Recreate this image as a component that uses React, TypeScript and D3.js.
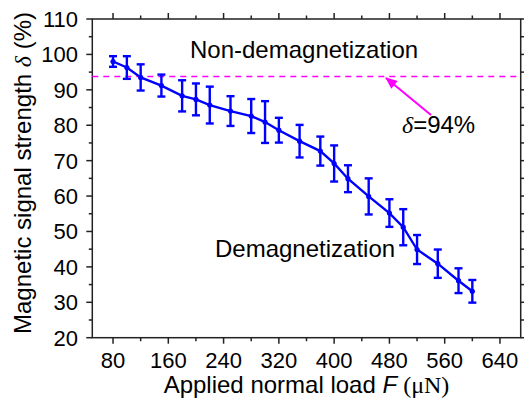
import React from "react";
import * as d3 from "d3";

const loads = [80, 100, 120, 150, 180, 200, 220, 250, 280, 300, 320, 350, 380, 400, 420, 450, 480, 500, 520, 550, 580, 600];
const strength = [98.0, 96.3, 93.5, 91.2, 88.3, 87.3, 85.7, 84.0, 82.6, 80.9, 78.6, 75.5, 72.7, 69.2, 64.9, 59.9, 55.2, 51.2, 44.9, 40.9, 36.1, 33.1];
const errors = [1.5, 3.2, 3.7, 3.1, 4.4, 4.5, 5.2, 4.2, 4.8, 5.9, 3.5, 4.6, 4.1, 5.1, 3.8, 5.1, 3.9, 5.1, 4.1, 4.0, 3.5, 3.2];
const xTicks = [80, 160, 240, 320, 400, 480, 560, 640];
const xMinor = [120, 200, 280, 360, 440, 520, 600];
const yTicks = [20, 30, 40, 50, 60, 70, 80, 90, 100, 110];
const yMinor = [25, 35, 45, 55, 65, 75, 85, 95, 105];
const threshold = 94;

const W = 524;
const H = 403;
const L = 92.3, R = 520.7, T = 19, B = 337.7;

export default function App() {
  const x = d3.scaleLinear().domain([50, 670]).range([L, R]);
  const y = d3.scaleLinear().domain([20, 110]).range([B, T]);
  const pts = loads.map((v, i) => ({ x: v, y: strength[i], e: errors[i] }));
  const line = d3.line<{ x: number; y: number }>().x((d) => x(d.x)).y((d) => y(d.y));
  const blue = "#0000ff";
  const magenta = "#ff00ff";
  const axisColor = "#222";
  const font = "Arial, 'Liberation Sans', Helvetica, sans-serif";
  const serif = "'Times New Roman', 'Liberation Serif', serif";

  return (
    <svg width={W} height={H} style={{ position: "absolute", left: 0, top: 0, background: "#fff" }} fontFamily={font}>
      <rect x={0} y={0} width={W} height={H} fill="#fff" />
      <rect x={L} y={T} width={R - L} height={B - T} fill="none" stroke={axisColor} strokeWidth={1.5} />
      {xTicks.map((t) => (
        <g key={"xt" + t}>
          <line x1={x(t)} x2={x(t)} y1={B} y2={B + 6} stroke={axisColor} strokeWidth={1.5} />
          <line x1={x(t)} x2={x(t)} y1={T} y2={T - 6} stroke={axisColor} strokeWidth={1.5} />
          <text x={x(t)} y={368} textAnchor="middle" fontSize={22} fill="#000">{t}</text>
        </g>
      ))}
      {xMinor.map((t) => (
        <g key={"xm" + t}>
          <line x1={x(t)} x2={x(t)} y1={B} y2={B + 3.5} stroke={axisColor} strokeWidth={1.5} />
          <line x1={x(t)} x2={x(t)} y1={T} y2={T - 3.5} stroke={axisColor} strokeWidth={1.5} />
        </g>
      ))}
      {yTicks.map((t) => (
        <g key={"yt" + t}>
          <line x1={L} x2={L - 6} y1={y(t)} y2={y(t)} stroke={axisColor} strokeWidth={1.5} />
          <line x1={R} x2={R + 6} y1={y(t)} y2={y(t)} stroke={axisColor} strokeWidth={1.5} />
          <text x={78} y={y(t)} dy="0.36em" textAnchor="end" fontSize={22} fill="#000">{t}</text>
        </g>
      ))}
      {yMinor.map((t) => (
        <g key={"ym" + t}>
          <line x1={L} x2={L - 3.5} y1={y(t)} y2={y(t)} stroke={axisColor} strokeWidth={1.5} />
          <line x1={R} x2={R + 3.5} y1={y(t)} y2={y(t)} stroke={axisColor} strokeWidth={1.5} />
        </g>
      ))}
      <line x1={L} x2={R} y1={Math.round(y(threshold)) + 0.5} y2={Math.round(y(threshold)) + 0.5} stroke={magenta} strokeWidth={1.6} strokeDasharray="6 5" />
      <path d={line(pts) || ""} fill="none" stroke={blue} strokeWidth={2.4} />
      {pts.map((p, i) => (
        <g key={"p" + i} stroke={blue} strokeWidth={2.4}>
          <line x1={x(p.x)} x2={x(p.x)} y1={y(p.y - p.e)} y2={y(p.y + p.e)} />
          <line x1={x(p.x) - 4} x2={x(p.x) + 4} y1={y(p.y - p.e)} y2={y(p.y - p.e)} />
          <line x1={x(p.x) - 4} x2={x(p.x) + 4} y1={y(p.y + p.e)} y2={y(p.y + p.e)} />
          <circle cx={x(p.x)} cy={y(p.y)} r={2.6} fill={blue} stroke="none" />
        </g>
      ))}
      <text x={190} y={58} fontSize={24} fill="#000">Non-demagnetization</text>
      <text x={215} y={257} fontSize={24} fill="#000">Demagnetization</text>
      <defs>
        <marker id="ah" viewBox="0 0 12 10" refX={11} refY={5} markerUnits="userSpaceOnUse" markerWidth={13} markerHeight={10} orient="auto">
          <path d="M0,0 L12,5 L0,10 Z" fill={magenta} />
        </marker>
      </defs>
      <line x1={431} x2={386} y1={115} y2={78} stroke={magenta} strokeWidth={2} markerEnd="url(#ah)" />
      <text x={402} y={133} fontSize={24} fill="#000">
        <tspan fontFamily={serif} fontStyle="italic">δ</tspan>
        <tspan>=94%</tspan>
      </text>
      <text x={306.5} y={393} textAnchor="middle" fontSize={24} fill="#000">
        <tspan>Applied normal load </tspan>
        <tspan fontStyle="italic">F</tspan>
        <tspan fontFamily={serif}> (μN)</tspan>
      </text>
      <text transform={`translate(31,173) rotate(-90)`} textAnchor="middle" fontSize={24} fill="#000">
        <tspan>Magnetic signal strength </tspan>
        <tspan fontFamily={serif} fontStyle="italic">δ</tspan>
        <tspan> (%)</tspan>
      </text>
    </svg>
  );
}
